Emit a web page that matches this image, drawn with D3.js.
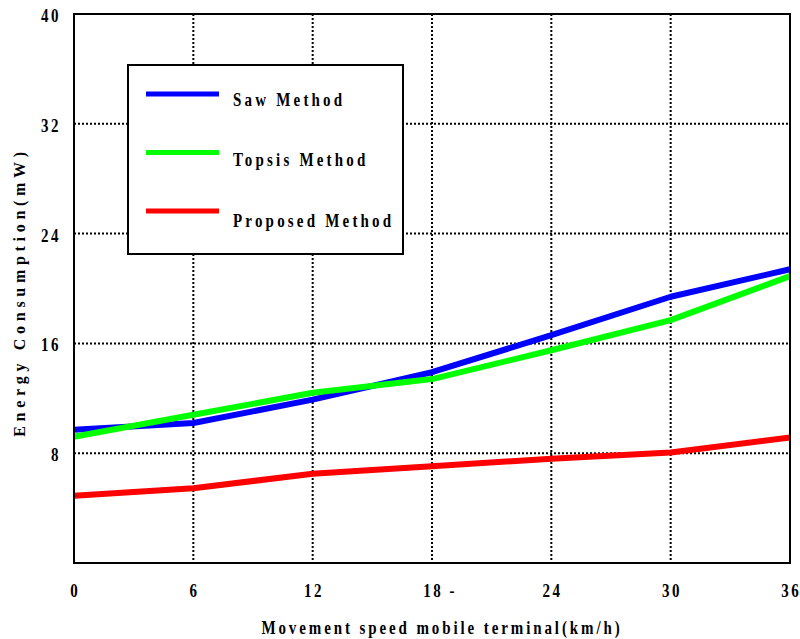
<!DOCTYPE html>
<html>
<head>
<meta charset="utf-8">
<script src="https://cdn.jsdelivr.net/npm/d3@7"></script>
<style>
  html, body { margin: 0; padding: 0; background: #fff; }
  svg { display: block; }
  text { font-family: "Liberation Serif", "Times New Roman", serif; font-weight: bold; fill: #000; }
</style>
</head>
<body>
<svg id="chart" width="800" height="639"></svg>
<script>
// ---- data ----
const speeds = [0, 6, 12, 18, 24, 30, 36];
const sawMethod      = [9.7, 10.2, 11.9, 13.9, 16.6, 19.4, 21.4];
const topsisMethod   = [9.2, 10.8, 12.4, 13.4, 15.5, 17.7, 20.9];
const proposedMethod = [4.9, 5.45, 6.5, 7.05, 7.6, 8.05, 9.15];
const seriesNames  = ["Saw Method", "Topsis Method", "Proposed Method"];
const seriesColors = ["#0000ff", "#00ff00", "#ff0000"];
const xTickValues = [0, 6, 12, 18, 24, 30, 36];
const xTickLabels = ["0", "6", "12", "18", "24", "30", "36"];
const xTickSuffix = ["", "", "", " -", "", "", ""];
const yTickValues = [8, 16, 24, 32, 40];
const yTickLabels = ["8", "16", "24", "32", "40"];
const xTitle = "Movement speed mobile terminal(km/h)";
const yTitle = "Energy Consumption(mW)";

// ---- layout ----
const svg = d3.select("#chart");
const L = 74, T = 14, R = 790, B = 563;
const x = d3.scaleLinear().domain([0, 36]).range([L, R]);
const y = d3.scaleLinear().domain([0, 40]).range([B, T]);
const SY = 1.3;

// grid
const grid = svg.append("g").attr("stroke", "#000").attr("stroke-width", 2).attr("stroke-dasharray", "2,2");
grid.selectAll("line.v").data(xTickValues.filter(v => v > 0 && v < 36)).join("line")
  .attr("x1", d => x(d)).attr("x2", d => x(d)).attr("y1", T).attr("y2", B);
grid.selectAll("line.h").data(yTickValues.filter(v => v < 40)).join("line")
  .attr("x1", L).attr("x2", R).attr("y1", d => y(d)).attr("y2", d => y(d));

// lines
const seriesData = [sawMethod, topsisMethod, proposedMethod];
const line = d3.line().x((d, i) => x(speeds[i])).y(d => y(d));
svg.append("g").selectAll("path").data(seriesData).join("path")
  .attr("d", d => line(d))
  .attr("fill", "none")
  .attr("stroke", (d, i) => seriesColors[i])
  .attr("stroke-width", 6)
  .attr("stroke-linejoin", "round");

// frame
svg.append("rect").attr("x", L).attr("y", T).attr("width", R - L).attr("height", B - T)
  .attr("fill", "none").attr("stroke", "#000").attr("stroke-width", 2);

// y tick labels
svg.append("g").selectAll("text").data(yTickValues).join("text")
  .attr("transform", d => `translate(61,${y(d) + 8}) scale(1,${SY})`)
  .attr("text-anchor", "end")
  .style("font-size", "15px").style("letter-spacing", "2.5px")
  .text((d, i) => yTickLabels[i]);

// x tick labels
const xl = svg.append("g");
xTickValues.forEach((v, i) => {
  const t = xl.append("text")
    .attr("transform", `translate(${x(v) + 1.25},597) scale(1,${SY})`)
    .attr("text-anchor", "middle")
    .style("font-size", "15px").style("letter-spacing", "2.5px")
    .text(xTickLabels[i]);
  if (xTickSuffix[i]) {
    const w = t.node().getComputedTextLength();
    xl.append("text")
      .attr("transform", `translate(${x(v) + 1.25 + w / 2},597) scale(1,${SY})`)
      .style("font-size", "15px").style("letter-spacing", "2.5px")
      .style("white-space", "pre")
      .attr("xml:space", "preserve")
      .text(xTickSuffix[i]);
  }
});

// axis titles
svg.append("text")
  .attr("transform", `translate(442,634) scale(1,${SY})`)
  .attr("text-anchor", "middle")
  .style("font-size", "15px").style("letter-spacing", "2.9px")
  .text(xTitle);
svg.append("text")
  .attr("transform", `translate(25,292) rotate(-90)`)
  .attr("text-anchor", "middle")
  .style("font-size", "16px").style("letter-spacing", "4.7px")
  .text(yTitle);

// legend
const lg = svg.append("g");
lg.append("rect").attr("x", 128).attr("y", 65).attr("width", 275).attr("height", 189)
  .attr("fill", "#fff").attr("stroke", "#000").attr("stroke-width", 2);
seriesNames.forEach((name, i) => {
  const ly = 94 + i * 58.5;
  lg.append("line").attr("x1", 146).attr("x2", 219).attr("y1", ly).attr("y2", ly)
    .attr("stroke", seriesColors[i]).attr("stroke-width", 5);
  lg.append("text")
    .attr("transform", `translate(233,${105.7 + i * 60.5}) scale(1,${SY})`)
    .style("font-size", "15px").style("letter-spacing", "3.2px")
    .text(name);
});
</script>
</body>
</html>
